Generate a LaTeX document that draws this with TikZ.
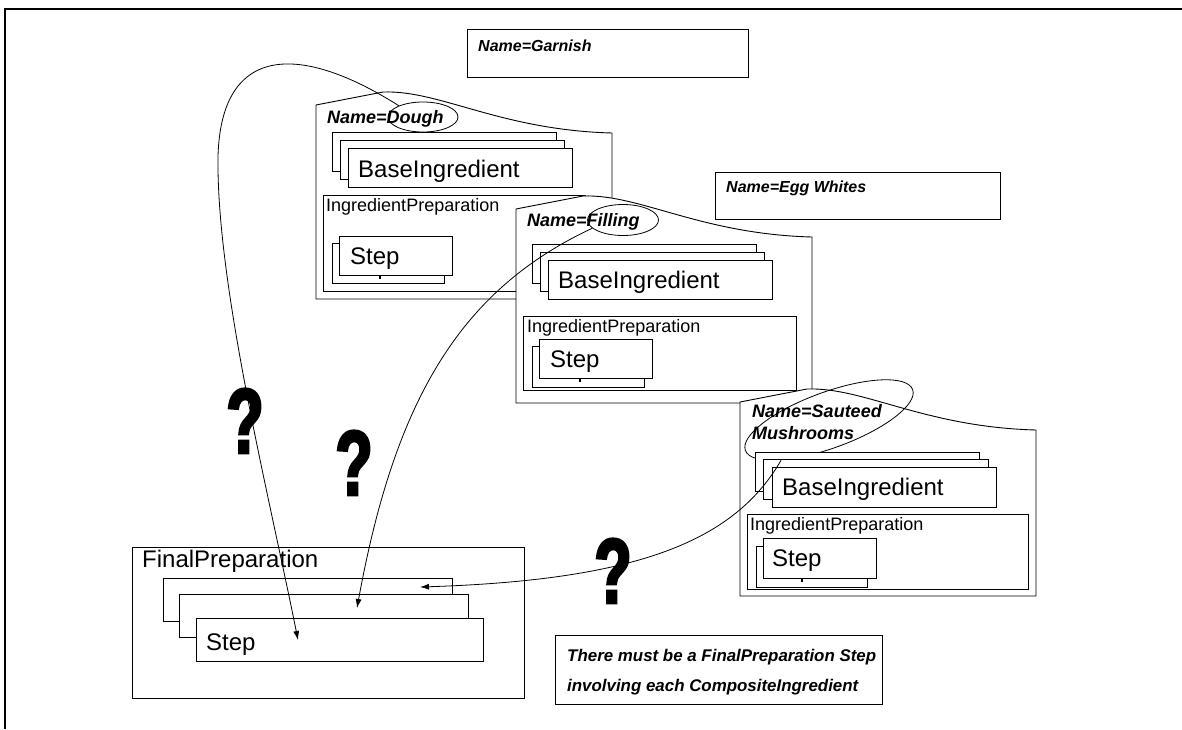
\documentclass[tikz,border=0pt]{standalone}
\usepackage{fontspec}
\setmainfont{Liberation Sans}
\newfontfamily\qfont[FakeStretch=0.66,FakeBold=3]{Liberation Sans}
\usetikzlibrary{fit,shapes.geometric,arrows.meta}
\tikzset{
  frame/.style={draw=black, fill=white, line width=0.9pt, inner sep=0pt, outer sep=0pt},
  cont/.style={draw=black, fill=white, line width=0.9pt},
  compbox/.pic={\path[cont] (0,0) -- (67,-13) .. controls (124,-15) and (184,25) .. (296,28) -- (296,194) -- (0,194) -- cycle;},
  big/.style={font=\fontsize{24}{28}\selectfont, inner sep=0pt, anchor=base west},
  mid/.style={font=\fontsize{18}{21}\selectfont, inner sep=0pt, anchor=base west},
  nm/.style={font=\fontsize{18}{21}\selectfont\bfseries\itshape, inner sep=0pt, anchor=base west},
  nmsmall/.style={font=\fontsize{16}{19}\selectfont\bfseries\itshape, inner sep=0pt, anchor=base west},
  notetext/.style={font=\fontsize{16.9}{24}\selectfont\bfseries\itshape, inner sep=0pt, anchor=base west},
  ring/.style={draw, ellipse, line width=0.8pt, inner sep=0pt},
  tick/.style={line width=1.6pt},
  conn/.style={line width=0.8pt, -{Latex[length=9pt,width=6pt]}},
  qm/.style={font=\fontsize{92}{92}\selectfont\qfont\bfseries, inner sep=0pt, anchor=base}
}
\begin{document}
\begin{tikzpicture}[x=1pt,y=-1pt]
\useasboundingbox (0,0) rectangle (1182,729);
\draw[line width=2pt] (1182,9) -- (5,9) -- (5,729);

% plain name boxes
\node[frame, fit={(467,29) (748,77)}] (garnish) {};
\node[nmsmall] (garnishT) at (478,51) {Name=Garnish};
\node[frame, fit={(715,172) (1000,219)}] (egg) {};
\node[nmsmall] (eggT) at (726,192) {Name=Egg Whites};

% Dough
\pic at (316,105) {compbox};
\node[nm] (doughT) at (327,123) {Name=Dough};
\node[ring, minimum width=70, minimum height=30] (eDough) at (423,117) {};
\node[frame, fit={(332,132) (556,171)}] (dB1) {};
\node[frame, fit={(340,140) (564,179)}] (dB2) {};
\node[frame, fit={(348,148) (572,187)}] (dB3) {};
\node[big] (dBT) at (358,177) {BaseIngredient};
\node[frame, fit={(323,195) (585,291)}] (dPrep) {};
\node[mid] (dPrepT) at (326,211) {IngredientPreparation};
\node[frame, fit={(332,243) (444,283)}] (dS1) {};
\node[frame, fit={(339,236) (452,275)}] (dS2) {};
\draw[tick] (380,275.5) -- (380,278.5);
\node[big] (dS2T) at (350,264) {Step};

% Filling
\pic at (516,209) {compbox};
\node[nm] (fillT) at (527,226) {Name=Filling};
\node[ring, minimum width=71, minimum height=31] (eFill) at (623,220) {};
\node[frame, fit={(532,244) (756,283)}] (fB1) {};
\node[frame, fit={(540,252) (764,291)}] (fB2) {};
\node[frame, fit={(548,260) (772,299)}] (fB3) {};
\node[big] (fBT) at (558,288) {BaseIngredient};
\node[frame, fit={(523,316) (796,390)}] (fPrep) {};
\node[mid] (fPrepT) at (527,332) {IngredientPreparation};
\node[frame, fit={(532,346) (644,387)}] (fS1) {};
\node[frame, fit={(539,339) (652,378)}] (fS2) {};
\draw[tick] (580,378.5) -- (580,381.5);
\node[big] (fS2T) at (550,367) {Step};

% Sauteed Mushrooms
\pic at (740,402) {compbox};
\node[nm] (sautT1) at (752,417) {Name=Sauteed};
\node[nm] (sautT2) at (752,439) {Mushrooms};
\node[ring, rotate=20, minimum width=178, minimum height=56] (eSaut) at (829,420) {};
\node[frame, fit={(755,452) (979,491)}] (sB1) {};
\node[frame, fit={(763,459) (988,499)}] (sB2) {};
\node[frame, fit={(772,467) (996,507)}] (sB3) {};
\node[big] (sBT) at (782,495) {BaseIngredient};
\node[frame, fit={(747,514) (1028,589)}] (sPrep) {};
\node[mid] (sPrepT) at (750,530) {IngredientPreparation};
\node[frame, fit={(756,546) (867,587)}] (sS1) {};
\node[frame, fit={(763,538) (876,578)}] (sS2) {};
\draw[tick] (802,578.5) -- (802,581.5);
\node[big] (sS2T) at (772,566) {Step};

% Final preparation
\node[frame, fit={(132,547) (524,698)}] (final) {};
\node[big] (finalT) at (142,567) {FinalPreparation};
\node[frame, fit={(163,578) (452,621)}] (fs1) {};
\node[frame, fit={(179,594) (468,637)}] (fs2) {};
\node[frame, fit={(196,618) (483,661)}] (fs3) {};
\node[big] (fs3T) at (206,650) {Step};

% note
\node[frame, fit={(555,635) (882,704)}] (note) {};
\node[notetext] (noteT1) at (567,661) {There must be a FinalPreparation Step};
\node[notetext] (noteT2) at (567,691) {involving each CompositeIngredient};

% question marks
\node[qm] (q1) at (245,453) {?};
\node[qm] (q2) at (354,495) {?};
\node[qm] (q3) at (613,603) {?};

% connectors
\coordinate (tD) at (298,640);
\coordinate (tF) at (357,608);
\coordinate (tS) at (420,587);
\draw[conn] (eDough.155) .. controls (295,40) and (215,45) .. (218,170) .. controls (220,300) and (270,500) .. (tD);
\draw[conn] (eFill.195) .. controls (460,290) and (395,400) .. (tF);
\draw[conn] (eSaut.200) .. controls (735,540) and (640,580) .. (tS);
\end{tikzpicture}
\end{document}
